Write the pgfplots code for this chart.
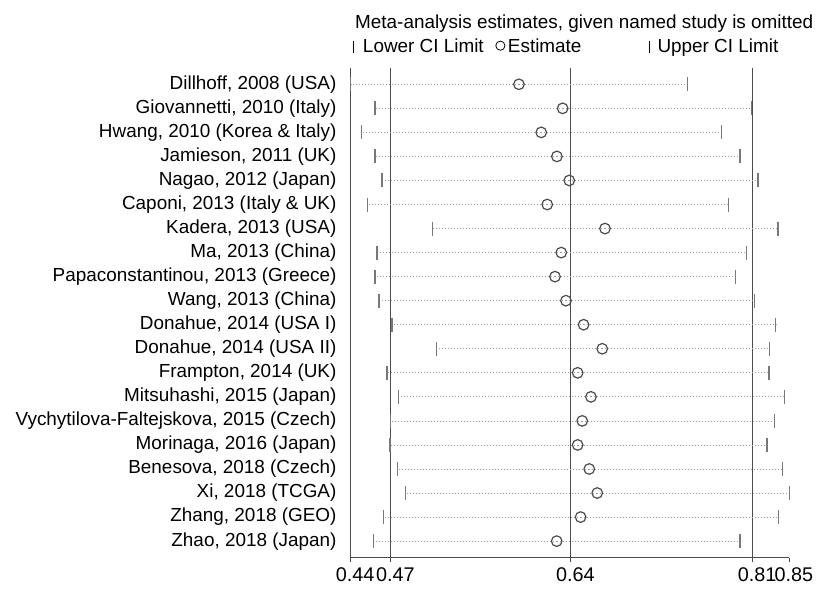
\documentclass[border=0pt]{standalone}
\usepackage{pgfplots}
\pgfplotsset{compat=1.18}
\usepackage{pgfplotstable}
\usepackage{fontspec}
\setmainfont{Liberation Sans}

% Leave-one-out estimates: y = row (20 = first study at the top)
\pgfplotstableread{
y  lo     est    hi
20 0.4330 0.5911 0.7497
19 0.4558 0.6322 0.8095
18 0.4433 0.6121 0.7816
17 0.4558 0.6268 0.7988
16 0.4624 0.6384 0.8158
15 0.4486 0.6177 0.7882
14 0.5100 0.6720 0.8348
13 0.4577 0.6309 0.8051
12 0.4558 0.6250 0.7948
11 0.4598 0.6353 0.8123
10 0.4718 0.6519 0.8324
9  0.5134 0.6694 0.8267
8  0.4671 0.6463 0.8261
7  0.4777 0.6588 0.8408
6  0.4706 0.6506 0.8311
5  0.4699 0.6463 0.8242
4  0.4771 0.6572 0.8386
3  0.4846 0.6647 0.8452
2  0.4636 0.6491 0.8352
1  0.4546 0.6266 0.7988
}\omitted

\definecolor{refline}{gray}{0.30}
\definecolor{cibar}{gray}{0.47}
\definecolor{dotc}{gray}{0.62}
\definecolor{estc}{gray}{0.30}

% legend key: a single mark (size, line width, vertical offset)
\pgfplotsset{markkey/.style n args={3}{legend image code/.code={%
  \draw[##1, mark size=#1, mark options={line width=#2}] plot coordinates {(0pt,#3)};}}}

\begin{document}
\begin{tikzpicture}[font=\fontsize{18.9}{22}\selectfont]
\path[use as bounding box] (0pt,0pt) rectangle (827pt,-590pt);
\node[anchor=base west, inner sep=0pt] at (355pt,-28pt)
  {Meta-analysis estimates, given named study is omitted};
\begin{axis}[
  at={(350.7pt,-557.7pt)}, anchor=south west,
  scale only axis, width=438.6pt, height=489.4pt,
  xmin=0.433, xmax=0.8452, ymin=0.31, ymax=20.665,
  axis x line*=bottom, axis y line*=left,
  axis line style={refline, line width=1pt, -},
  xtick={0.433,0.4708,0.64,0.8108,0.8452},
  xticklabels={0.44,0.47,0.64,0.81,0.85},
  x tick style={refline, line width=1pt},
  tick align=outside, major tick length=4.6pt,
  xticklabel style={inner sep=0pt, anchor=north, yshift=-5pt, xshift=4.5pt,
    font=\fontsize{19.8}{22}\selectfont},
  ytick={1,...,20},
  yticklabels={{Zhao, 2018 (Japan)},{Zhang, 2018 (GEO)},{Xi, 2018 (TCGA)},
    {Benesova, 2018 (Czech)},{Morinaga, 2016 (Japan)},
    {Vychytilova-Faltejskova, 2015 (Czech)},{Mitsuhashi, 2015 (Japan)},
    {Frampton, 2014 (UK)},{Donahue, 2014 (USA II)},{Donahue, 2014 (USA I)},
    {Wang, 2013 (China)},{Papaconstantinou, 2013 (Greece)},{Ma, 2013 (China)},
    {Kadera, 2013 (USA)},{Caponi, 2013 (Italy \& UK)},{Nagao, 2012 (Japan)},
    {Jamieson, 2011 (UK)},{Hwang, 2010 (Korea \& Italy)},
    {Giovannetti, 2010 (Italy)},{Dillhoff, 2008 (USA)}},
  y tick style={draw=none},
  yticklabel style={inner sep=0pt, anchor=east, xshift=-9.5pt},
  clip=false,
  /pgf/number format/assume math mode=true,
  legend columns=3,
  legend style={at={(rel axis cs:0,1)}, anchor=west, xshift=2.8pt, yshift=22pt,
    draw=none, fill=none, inner sep=0pt, outer sep=0pt,
    nodes={inner sep=0pt, text height=13.5pt, text depth=0pt},
    /tikz/column 1/.style={column sep=9.5pt},
    /tikz/column 2/.style={column sep=12pt},
    /tikz/column 3/.style={column sep=3pt},
    /tikz/column 4/.style={column sep=68pt},
    /tikz/column 5/.style={column sep=8pt}},
]
% overall estimate and its confidence limits
\addplot[forget plot, refline, line width=1pt] coordinates {(0.4708,0.31) (0.4708,20.665)};
\addplot[forget plot, refline, line width=1pt] coordinates {(0.64,0.31) (0.64,20.665)};
\addplot[forget plot, refline, line width=1pt] coordinates {(0.8108,0.31) (0.8108,20.665)};
% dotted span of each interval
\addplot[forget plot, draw=none, mark=none,
  error bars/.cd, x dir=both, x explicit, error mark=none,
  error bar style={draw=dotc, line width=0.8pt, dash pattern=on 0.8pt off 2.2pt}]
  table[x=est, y=y, x error plus expr=\thisrow{hi}-\thisrow{est},
        x error minus expr=\thisrow{est}-\thisrow{lo}] {\omitted};
% lower limits
\addplot[only marks, mark=|, mark size=7pt, mark options={draw=cibar, line width=1.5pt},
  markkey={6pt}{0.9pt}{-1pt}]
  table[x=lo, y=y] {\omitted};
\addlegendentry{Lower CI Limit}
% estimates
\addplot[only marks, mark=o, mark size=5.3pt, mark options={draw=estc, fill=white, line width=1.2pt},
  markkey={4.6pt}{0.8pt}{0.5pt}]
  table[x=est, y=y] {\omitted};
\addlegendentry{Estimate}
% upper limits
\addplot[only marks, mark=|, mark size=7pt, mark options={draw=cibar, line width=1.5pt},
  markkey={6pt}{0.9pt}{-1pt}]
  table[x=hi, y=y] {\omitted};
\addlegendentry{Upper CI Limit}
\end{axis}
\end{tikzpicture}
\end{document}
